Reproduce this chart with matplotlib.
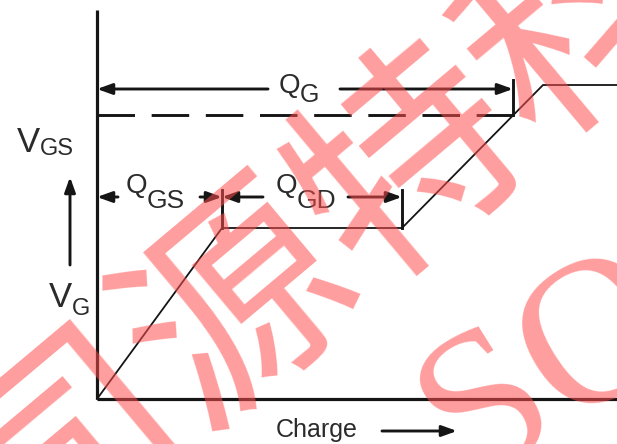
import matplotlib.pyplot as plt

plt.rcParams['font.family'] = ['Liberation Sans', 'DejaVu Sans']
plt.rcParams['lines.scale_dashes'] = False

# Gate charge curve, arbitrary units with the origin at the axis corner.
charge = [0, 125, 305, 446, 520]
vgs = [0, 171, 171, 314, 314]

q_gs = 125        # end of first ramp (Q_GS)
q_gd_end = 305    # end of Miller plateau (Q_GS + Q_GD)
q_g = 416         # total gate charge at V_G
v_plateau = 171
v_g = 284         # gate drive level (dashed line)
q_axis = 520
v_axis = 389

# label rows
row_qg = 310
row_qgs = 202

INK = '#151515'
TXT = '#2b2b2b'

fig = plt.figure(figsize=(6.17, 4.44), dpi=100)
ax = fig.add_axes([0, 0, 1, 1])
ax.set_xlim(-97, 520)
ax.set_ylim(-45, 399)
ax.axis('off')


def arrow(x0, y0, x1, y1, lw=2.1, ms=18):
    ax.annotate('', xy=(x1, y1), xytext=(x0, y0),
                arrowprops=dict(arrowstyle='-|>,head_length=0.5,head_width=0.18',
                                lw=lw, color=INK, shrinkA=0, shrinkB=0,
                                mutation_scale=ms))


def sub_label(x, y, main, sub, y_sub, size=20, size_sub=18):
    ax.text(x, y, main, ha='right', va='baseline', fontsize=size, color=TXT)
    ax.text(x, y_sub, sub, ha='left', va='baseline', fontsize=size_sub, color=TXT)


# axes
ax.plot([0, 0], [0, v_axis], color=INK, lw=2.3, solid_capstyle='butt')
ax.plot([0, q_axis], [0, 0], color=INK, lw=2.3, solid_capstyle='butt')

# waveform
ax.plot(charge, vgs, color=INK, lw=1.3)

# V_G level
ax.plot([0, q_g], [v_g, v_g], color=INK, lw=2.1, dashes=(27, 12))

# Q_G dimension
ax.plot([q_g, q_g], [v_g, 319], color=INK, lw=2.1)
arrow(171, row_qg, 0, row_qg)
arrow(243, row_qg, q_g, row_qg)
sub_label(203, 306, 'Q', 'G', 297)

# Q_GS / Q_GD dimensions
ax.plot([q_gs, q_gs], [v_plateau, 209], color=INK, lw=2.1)
ax.plot([q_gd_end, q_gd_end], [v_plateau, 209], color=INK, lw=2.1)
arrow(21, row_qgs, 0, row_qgs)
arrow(103, row_qgs, q_gs, row_qgs)
arrow(166, row_qgs, q_gs, row_qgs)
arrow(251, row_qgs, q_gd_end, row_qgs)
sub_label(50, 206, 'Q', 'GS', 191, size=20, size_sub=19)
sub_label(200, 206, 'Q', 'GD', 191, size=20, size_sub=19)

# y label + V_G
sub_label(-57, 247, 'V', 'GS', 244, size=25, size_sub=17)
arrow(-27, 134, -27, 222)
sub_label(-25, 92, 'V', 'G', 84, size=25, size_sub=17)

# x label
ax.text(220, -38, 'Charge', ha='center', va='baseline', fontsize=18, color=TXT)
arrow(285, -32, 360, -32)

# watermark
ax.text(313, 239, '司源特科技', ha='center', va='center', rotation=40,
        rotation_mode='anchor', fontsize=160, color='#ff4d4d', alpha=0.55,
        family=['Noto Sans CJK SC', 'DejaVu Sans'], zorder=10)
ax.text(455, 30, 'SO', ha='center', va='center', rotation=32,
        rotation_mode='anchor', fontsize=150, color='#ff4d4d', alpha=0.55,
        family=['Liberation Serif', 'DejaVu Serif'], zorder=10)

fig.savefig('out.png', dpi=100)
